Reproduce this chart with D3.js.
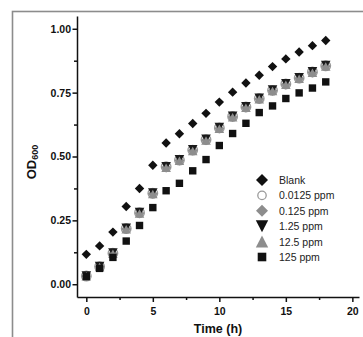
<!DOCTYPE html>
<html>
<head>
<meta charset="utf-8">
<script src="https://cdn.jsdelivr.net/npm/d3@7"></script>
<style>
  body { margin: 0; background: #fff; }
  text { font-family: "Liberation Sans", Arial, sans-serif; }
</style>
</head>
<body>
<script>
// data
const hours = [0, 1, 2, 3, 4, 5, 6, 7, 8, 9, 10, 11, 12, 13, 14, 15, 16, 17, 18];
const blank = [0.117, 0.150, 0.204, 0.304, 0.375, 0.466, 0.553, 0.589, 0.629, 0.669,
  0.713, 0.752, 0.788, 0.818, 0.852, 0.882, 0.909, 0.934, 0.954];
const ppm0_0125 = [0.032, 0.069, 0.121, 0.218, 0.280, 0.356, 0.460, 0.486, 0.525, 0.566,
  0.612, 0.657, 0.694, 0.727, 0.759, 0.784, 0.807, 0.831, 0.855];
const ppm0_125 = [0.031, 0.068, 0.119, 0.216, 0.278, 0.354, 0.457, 0.484, 0.523, 0.564,
  0.610, 0.655, 0.692, 0.725, 0.757, 0.782, 0.805, 0.829, 0.853];
const ppm1_25 = [0.034, 0.071, 0.124, 0.221, 0.283, 0.359, 0.462, 0.489, 0.528, 0.569,
  0.615, 0.660, 0.697, 0.730, 0.762, 0.787, 0.810, 0.834, 0.858];
const ppm12_5 = [0.031, 0.067, 0.119, 0.215, 0.277, 0.353, 0.456, 0.483, 0.522, 0.563,
  0.609, 0.654, 0.691, 0.724, 0.756, 0.781, 0.804, 0.828, 0.852];
const ppm125 = [0.030, 0.062, 0.105, 0.169, 0.230, 0.300, 0.366, 0.395, 0.444, 0.488,
  0.543, 0.590, 0.630, 0.672, 0.698, 0.727, 0.749, 0.768, 0.792];

const xTicks = [0, 5, 10, 15, 20];
const yTicks = [0, 0.25, 0.5, 0.75, 1.0];
const legendLabels = ["Blank", "0.0125 ppm", "0.125 ppm", "1.25 ppm", "12.5 ppm", "125 ppm"];

const width = 363, height = 337;
const svg = d3.select("body").append("svg")
  .attr("width", width)
  .attr("height", height);

// grey frame around the figure, runs off the right and bottom edge
svg.append("rect")
  .attr("x", 12.5).attr("y", 11.5)
  .attr("width", 400).attr("height", 400)
  .attr("fill", "none")
  .attr("stroke", "#8c8c8c")
  .attr("stroke-width", 1.6);

const x = d3.scaleLinear().domain([-0.7, 20.5]).range([77, 359]);
const y = d3.scaleLinear().domain([-0.05, 1.05]).range([297, 16]);

// marker shapes
function diamond(h) { return `M0,${-h}L${h},0L0,${h}L${-h},0Z`; }
function square(s) { return `M${-s},${-s}H${s}V${s}H${-s}Z`; }
function triUp(w, h) { return `M${-w},${h / 2}L${w},${h / 2}L0,${-h / 2}Z`; }
function triDown(w, h) { return `M${-w},${-h / 2}L${w},${-h / 2}L0,${h / 2}Z`; }

const series = [
  { vals: blank, path: diamond(4.7), fill: "#111" },
  { vals: ppm0_0125, circle: 4.8, fill: "#fff", stroke: "#9a9a9a" },
  { vals: ppm0_125, path: diamond(5), fill: "#8d8d8d" },
  { vals: ppm1_25, path: triDown(4.8, 8.5), fill: "#1a1a1a" },
  { vals: ppm12_5, path: triUp(4.8, 8.5), fill: "#8d8d8d" },
  { vals: ppm125, path: square(3.7), fill: "#111" }
];

const plot = svg.append("g");
series.forEach(s => {
  const g = plot.append("g");
  const pts = g.selectAll("g").data(hours.map((h, i) => [h, s.vals[i]]))
    .join("g")
    .attr("transform", d => `translate(${x(d[0])},${y(d[1])})`);
  if (s.circle) {
    pts.append("circle").attr("r", s.circle)
      .attr("fill", s.fill).attr("stroke", s.stroke).attr("stroke-width", 1.3);
  } else {
    pts.append("path").attr("d", s.path).attr("fill", s.fill);
  }
});

// axes
const axisColor = "#111";
const xAxis = svg.append("g").attr("transform", `translate(0,${y.range()[0]})`)
  .call(d3.axisBottom(x).tickValues(xTicks).tickFormat(d3.format("d")).tickSize(5).tickSizeOuter(0));
const yAxis = svg.append("g").attr("transform", `translate(${x.range()[0]},0)`)
  .call(d3.axisLeft(y).tickValues(yTicks).tickFormat(d3.format(".2f")).tickSize(4.5).tickSizeOuter(0));

// minor ticks
svg.append("g").attr("transform", `translate(0,${y.range()[0]})`)
  .call(d3.axisBottom(x).tickValues([2.5, 7.5, 12.5, 17.5]).tickFormat("").tickSize(3).tickSizeOuter(0))
  .select(".domain").remove();
svg.append("g").attr("transform", `translate(${x.range()[0]},0)`)
  .call(d3.axisLeft(y).tickValues([0.125, 0.375, 0.625, 0.875]).tickFormat("").tickSize(3).tickSizeOuter(0))
  .select(".domain").remove();

svg.selectAll(".domain, .tick line")
  .attr("stroke", axisColor)
  .attr("stroke-width", 1.5);
svg.selectAll(".tick text")
  .attr("font-family", "'Liberation Sans', Arial, sans-serif")
  .attr("font-size", 10.5)
  .attr("font-weight", "bold")
  .attr("fill", "#111");
xAxis.selectAll(".tick text").attr("dy", "0.95em");
yAxis.selectAll(".tick text").attr("x", -6);

// axis titles
svg.append("text")
  .attr("x", 218).attr("y", 333)
  .attr("text-anchor", "middle")
  .attr("font-size", 12.5)
  .attr("font-weight", "bold")
  .attr("fill", "#111")
  .text("Time (h)");

const yt = svg.append("text")
  .attr("transform", "translate(36,162) rotate(-90)")
  .attr("text-anchor", "middle")
  .attr("font-size", 13)
  .attr("font-weight", "bold")
  .attr("fill", "#111");
yt.append("tspan").text("OD");
yt.append("tspan").attr("font-size", 9).attr("dy", 2).text("600");

// legend
const legend = svg.append("g");
const legendShapes = [
  { path: diamond(6), fill: "#111" },
  { circle: 4.2, fill: "#fff", stroke: "#9a9a9a" },
  { path: diamond(6), fill: "#8d8d8d" },
  { path: triDown(6.2, 12), fill: "#111" },
  { path: triUp(6.2, 12), fill: "#8d8d8d" },
  { path: square(4.3), fill: "#111" }
];
const rowY = d3.scaleLinear().domain([0, 5]).range([180, 257]);
legendLabels.forEach((lab, i) => {
  const sh = legendShapes[i];
  const g = legend.append("g").attr("transform", `translate(262,${rowY(i)})`);
  if (sh.circle) {
    g.append("circle").attr("r", sh.circle)
      .attr("fill", sh.fill).attr("stroke", sh.stroke).attr("stroke-width", 1.3);
  } else {
    g.append("path").attr("d", sh.path).attr("fill", sh.fill);
  }
  g.append("text")
    .attr("x", 17).attr("y", 4)
    .attr("font-size", 10.5)
    .attr("fill", "#222")
    .text(lab);
});
</script>
</body>
</html>
